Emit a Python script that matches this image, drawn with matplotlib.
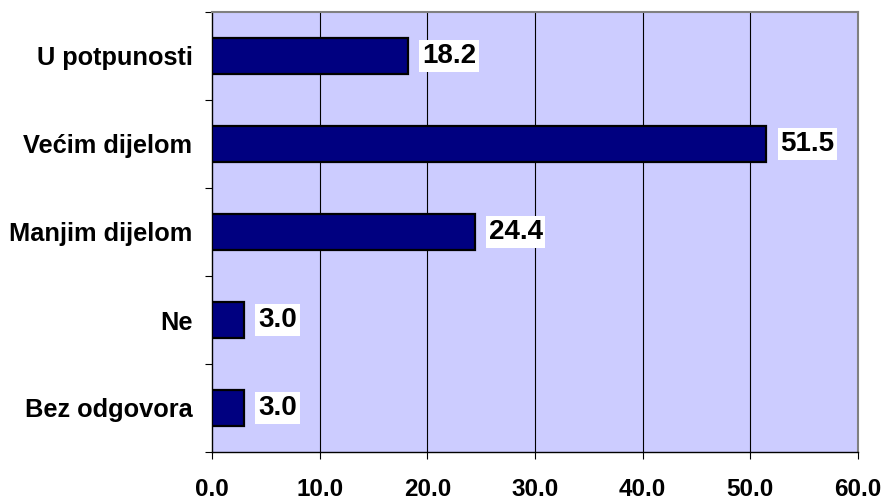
import matplotlib
matplotlib.use("Agg")
import matplotlib.pyplot as plt
import numpy as np

categories = ["U potpunosti", "Većim dijelom", "Manjim dijelom", "Ne", "Bez odgovora"]
values = [18.2, 51.5, 24.4, 3.0, 3.0]
xticks = [0, 10, 20, 30, 40, 50, 60]

plt.rcParams['font.family'] = ['Liberation Sans', 'DejaVu Sans']
plt.rcParams['font.weight'] = 'bold'

fig = plt.figure(figsize=(8.87, 5.0), dpi=100)
ax = fig.add_axes([212/887, 1-452/500, (858-212)/887, (452-12)/500])
ax.set_facecolor('#CCCCFF')

n = len(categories)
ypos = np.arange(n)[::-1]
ax.barh(ypos, values, height=0.42, color='#000080', edgecolor='black', linewidth=1.6, zorder=3)

for y, v in zip(ypos, values):
    ax.annotate(f"{v:.1f}", xy=(v, y), xytext=(10, 0), textcoords='offset points',
                ha='left', va='center', fontsize=20, fontweight='bold', color='black',
                bbox=dict(boxstyle='square,pad=0.1', fc='white', ec='none'), zorder=5)

ax.set_xlim(0, 60)
ax.set_ylim(-0.5, n-0.5)
ax.set_xticks(xticks)
ax.set_xticklabels([f"{t:.1f}" for t in xticks], fontsize=17.5, fontweight='bold')
ax.set_yticks(ypos)
ax.set_yticklabels(categories, fontsize=18.3, fontweight='bold')
ax.set_yticks(np.arange(-0.5, n, 1.0), minor=True)
ax.tick_params(axis='y', which='major', length=0, pad=14)
ax.tick_params(axis='y', which='minor', length=5, width=0.8, direction='out')
ax.tick_params(axis='x', which='major', length=5, width=0.8, direction='out', pad=14)

for x in xticks[1:-1]:
    ax.axvline(x, color='black', linewidth=0.8, zorder=1)

ax.spines['left'].set_color('black')
ax.spines['bottom'].set_color('black')
ax.spines['top'].set_color('#808080')
ax.spines['right'].set_color('#808080')
for s in ax.spines.values():
    s.set_linewidth(1.5)
ax.spines['left'].set_linewidth(1.0)
ax.spines['bottom'].set_linewidth(1.0)

fig.savefig('out.png', dpi=100)
